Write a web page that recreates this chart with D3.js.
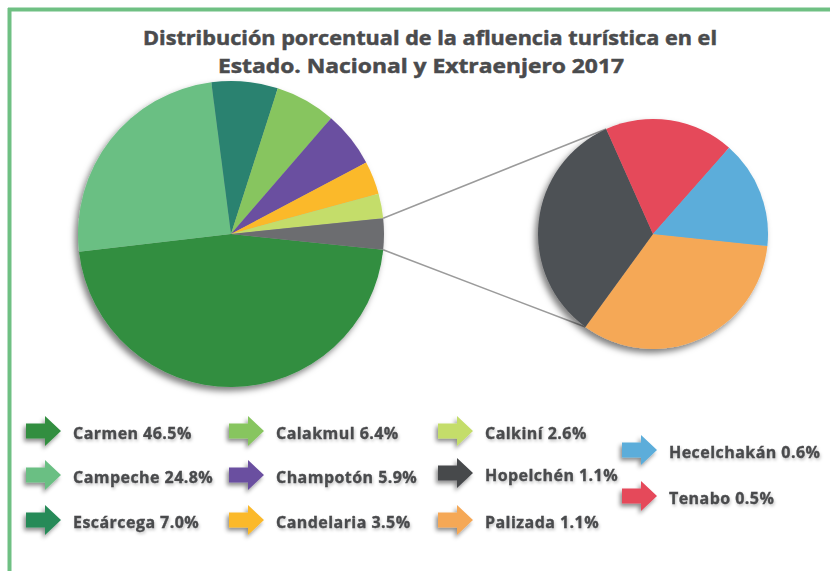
<!DOCTYPE html>
<html>
<head>
<meta charset="utf-8">
<script src="https://cdn.jsdelivr.net/npm/d3@7"></script>
<style>
  html, body { margin: 0; padding: 0; background: #ffffff; }
  svg { display: block; }
</style>
</head>
<body>
<svg id="chart" width="830" height="571"></svg>
<script>
// ---------- DATA ----------
const titleLines = [
  "Distribución porcentual de la afluencia turística en el",
  "Estado. Nacional y Extraenjero 2017"
];
const mainCategories = ["Carmen", "Campeche", "Escárcega", "Calakmul", "Champotón", "Candelaria", "Calkiní"];
const mainValues     = [46.5, 24.8, 7.0, 6.4, 5.9, 3.5, 2.6];
const secCategories  = ["Palizada", "Hopelchén", "Tenabo", "Hecelchakán"];
const secValues      = [1.1, 1.1, 0.6, 0.5];   // slice sizes as drawn
const legendNames    = ["Carmen", "Campeche", "Escárcega", "Calakmul", "Champotón", "Candelaria",
                        "Calkiní", "Hopelchén", "Palizada", "Hecelchakán", "Tenabo"];
const legendPercents = ["46.5%", "24.8%", "7.0%", "6.4%", "5.9%", "3.5%",
                        "2.6%", "1.1%", "1.1%", "0.6%", "0.5%"];

// ---------- STYLE ----------
const sliceColors = {
  "Carmen": "#318e40", "Campeche": "#6bbf83", "Escárcega": "#2a8270", "Calakmul": "#87c55f",
  "Champotón": "#6b4fa0", "Candelaria": "#fbb92b", "Calkiní": "#c4dd6b", "Otros": "#6c6d70",
  "Hopelchén": "#4e5155", "Palizada": "#f5a857", "Hecelchakán": "#5badda", "Tenabo": "#e5485a"
};
const arrowColors = Object.assign({}, sliceColors, { "Escárcega": "#268a58", "Hopelchén": "#46484b" });
const textColor = "#4a4b4d";

const svg = d3.select("#chart");
const defs = svg.append("defs");
const pieShadow = defs.append("filter").attr("id", "pieShadow")
  .attr("x", "-20%").attr("y", "-20%").attr("width", "140%").attr("height", "140%");
pieShadow.append("feDropShadow").attr("dx", -3).attr("dy", 4).attr("stdDeviation", 3)
  .attr("flood-color", "#000").attr("flood-opacity", 0.5);
const arrowShadow = defs.append("filter").attr("id", "arrowShadow")
  .attr("x", "-40%").attr("y", "-40%").attr("width", "180%").attr("height", "180%");
arrowShadow.append("feDropShadow").attr("dx", -2).attr("dy", 3).attr("stdDeviation", 2)
  .attr("flood-color", "#000").attr("flood-opacity", 0.45);
const textShadow = defs.append("filter").attr("id", "textShadow")
  .attr("x", "-10%").attr("y", "-30%").attr("width", "120%").attr("height", "160%");
textShadow.append("feDropShadow").attr("dx", 1).attr("dy", 2).attr("stdDeviation", 1.5)
  .attr("flood-color", "#000").attr("flood-opacity", 0.22);

// ---------- FRAME ----------
svg.append("line").attr("x1", 8).attr("x2", 830).attr("y1", 9.5).attr("y2", 9.5)
  .attr("stroke", "#6fc083").attr("stroke-width", 4);
svg.append("line").attr("x1", 9.5).attr("x2", 9.5).attr("y1", 8).attr("y2", 571)
  .attr("stroke", "#6fc083").attr("stroke-width", 4);

// ---------- TITLE ----------
const titleFont = "'Open Sans', 'DejaVu Sans', sans-serif";
svg.append("text").attr("x", 143).attr("y", 45)
  .attr("font-family", titleFont).attr("font-weight", 700).attr("font-size", 20)
  .attr("fill", textColor).attr("stroke", textColor).attr("stroke-width", 0.5)
  .attr("textLength", 574).attr("lengthAdjust", "spacingAndGlyphs")
  .text(titleLines[0]);
svg.append("text").attr("x", 218).attr("y", 73)
  .attr("font-family", titleFont).attr("font-weight", 700).attr("font-size", 20)
  .attr("fill", textColor).attr("stroke", textColor).attr("stroke-width", 0.5)
  .attr("textLength", 406).attr("lengthAdjust", "spacingAndGlyphs")
  .text(titleLines[1]);

// ---------- PIE LAYOUTS ----------
const deg = Math.PI / 180;
const otherValue = d3.sum(secValues);
const mainData = mainCategories.map((c, i) => ({ name: c, value: mainValues[i] }))
  .concat([{ name: "Otros", value: otherValue }]);
const mainTotal = d3.sum(mainData, d => d.value);
const otherAngle = otherValue / mainTotal * 2 * Math.PI;
const mainStart = Math.PI / 2 + otherAngle / 2;
const mainPie = d3.pie().sort(null).value(d => d.value)
  .startAngle(mainStart).endAngle(mainStart + 2 * Math.PI);
const mainArcs = mainPie(mainData);

const secData = secCategories.map((c, i) => ({ name: c, value: secValues[i] }));
const secStart = 96 * deg;
const secPie = d3.pie().sort(null).value(d => d.value)
  .startAngle(secStart).endAngle(secStart + 2 * Math.PI);
const secArcs = secPie(secData);

const mainC = { x: 231, y: 234, r: 153 };
const secC  = { x: 653, y: 234, r: 115 };

const pt = (c, a) => [c.x + c.r * Math.sin(a), c.y - c.r * Math.cos(a)];

// ---------- CONNECTOR LINES ----------
const otherArc = mainArcs[mainArcs.length - 1];
const hop = secArcs.find(d => d.data.name === "Hopelchén");
const connectors = [
  [pt(mainC, otherArc.startAngle), pt(secC, hop.endAngle)],
  [pt(mainC, otherArc.endAngle), pt(secC, hop.startAngle)]
];
svg.append("g").selectAll("line").data(connectors).join("line")
  .attr("x1", d => d[0][0]).attr("y1", d => d[0][1])
  .attr("x2", d => d[1][0]).attr("y2", d => d[1][1])
  .attr("stroke", "#9b9b9b").attr("stroke-width", 1.6);

// ---------- PIES ----------
const mainArcGen = d3.arc().innerRadius(0).outerRadius(mainC.r);
svg.append("g").attr("transform", `translate(${mainC.x},${mainC.y})`).attr("filter", "url(#pieShadow)")
  .selectAll("path").data(mainArcs).join("path")
  .attr("d", mainArcGen).attr("fill", d => sliceColors[d.data.name]);

const secArcGen = d3.arc().innerRadius(0).outerRadius(secC.r);
svg.append("g").attr("transform", `translate(${secC.x},${secC.y})`).attr("filter", "url(#pieShadow)")
  .selectAll("path").data(secArcs).join("path")
  .attr("d", secArcGen).attr("fill", d => sliceColors[d.data.name]);

// ---------- LEGEND ----------
const colX = [26, 229, 438, 622];
const colRows = [[433, 477, 522], [433, 477, 522], [433, 475, 522], [452, 498]];
const slots = [];
colRows.forEach((rows, ci) => rows.forEach(y => slots.push({ x: colX[ci], y })));

const arrowPath = (x, y) => {
  const L = 35, head = 16, sh = 7.5, hh = 15;
  return `M${x},${y - sh} L${x + L - head},${y - sh} L${x + L - head},${y - hh} L${x + L},${y} ` +
         `L${x + L - head},${y + hh} L${x + L - head},${y + sh} L${x},${y + sh} Z`;
};

const leg = svg.append("g").selectAll("g").data(legendNames).join("g");
leg.append("path")
  .attr("d", (d, i) => arrowPath(slots[i].x, slots[i].y - 2))
  .attr("fill", d => arrowColors[d]).attr("filter", "url(#arrowShadow)");
leg.append("text")
  .attr("x", (d, i) => slots[i].x + 47).attr("y", (d, i) => slots[i].y + 5.5)
  .attr("font-family", titleFont).attr("font-weight", 700).attr("font-size", 16)
  .attr("letter-spacing", 0.45)
  .attr("fill", textColor).attr("stroke", textColor).attr("stroke-width", 0.35)
  .attr("filter", "url(#textShadow)")
  .text((d, i) => `${d} ${legendPercents[i]}`);
</script>
</body>
</html>
